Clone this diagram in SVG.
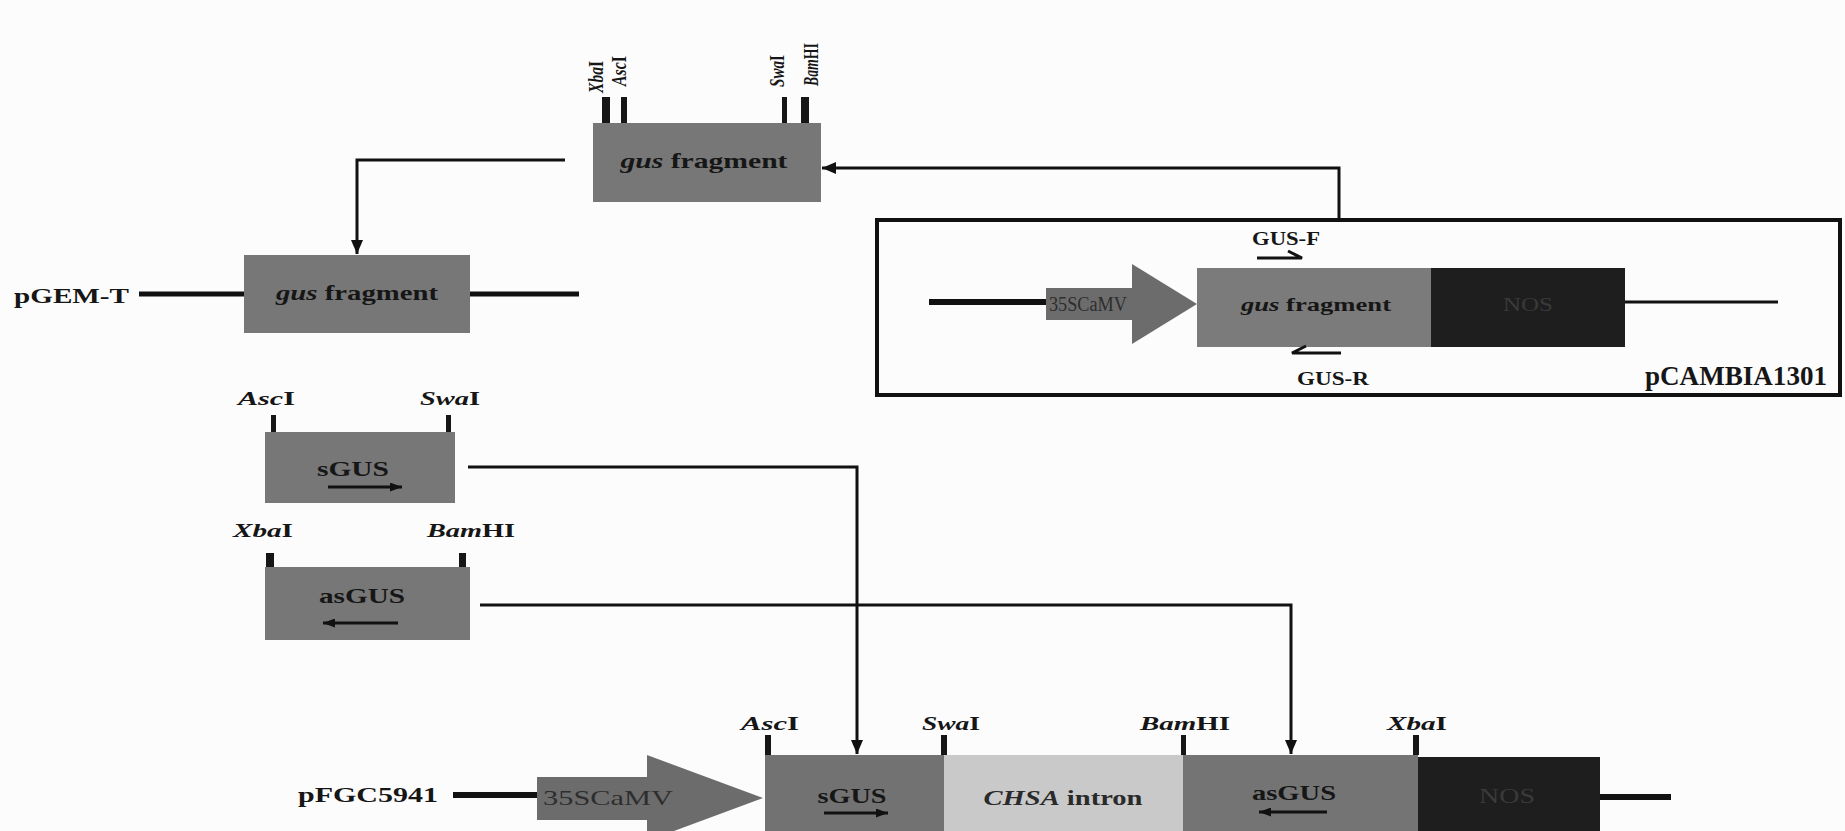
<svg xmlns="http://www.w3.org/2000/svg" width="1845" height="831" viewBox="0 0 1845 831">
<defs>
<marker id="ah" markerWidth="14" markerHeight="12" refX="14" refY="6" orient="auto" markerUnits="userSpaceOnUse"><path d="M0,0 L14,6 L0,12 Z" fill="#111"/></marker>
<marker id="sa" markerWidth="12" markerHeight="9" refX="12" refY="4.5" orient="auto" markerUnits="userSpaceOnUse"><path d="M0,0 L12,4.5 L0,9 Z" fill="#111"/></marker>
</defs>
<style>
.t{font-family:"Liberation Serif","Times New Roman",serif;font-weight:bold;fill:#161616}
.i{font-style:italic}
.m{text-anchor:middle}
.n{font-weight:normal;fill:#2e2e2e}
.box{fill:#777777}
.dark{fill:#1e1e1e}
.light{fill:#c9c9c9}
.conn{fill:none;stroke:#111;stroke-width:3}
.bb{stroke:#111;stroke-width:5}
.tk{fill:#161616}
.sa{stroke:#111;stroke-width:3;marker-end:url(#sa)}
.hp{fill:none;stroke:#111;stroke-width:3}
</style>
<rect width="1845" height="831" fill="#fcfcfc"/>

<g id="connectors">
<path class="conn" d="M1339,218 V168 H822" marker-end="url(#ah)"/>
<path class="conn" d="M565,160 H357 V254" marker-end="url(#ah)"/>
<path class="conn" d="M468,467 H857 V754" marker-end="url(#ah)"/>
<path class="conn" d="M480,605 H1291 V754" marker-end="url(#ah)"/>
</g>

<g id="gus-top">
<rect class="box" x="593" y="123" width="228" height="79"/>
<rect class="tk" x="602" y="97" width="8" height="26"/>
<rect class="tk" x="621" y="97" width="6" height="26"/>
<rect class="tk" x="782" y="97" width="5" height="26"/>
<rect class="tk" x="801" y="97" width="8" height="26"/>
<text class="t" font-size="20" transform="translate(603,93) rotate(-90)" textLength="32" lengthAdjust="spacingAndGlyphs"><tspan class="i">Xba</tspan>I</text>
<text class="t" font-size="20" transform="translate(626,86) rotate(-90)" textLength="30" lengthAdjust="spacingAndGlyphs"><tspan class="i">Asc</tspan>I</text>
<text class="t" font-size="20" transform="translate(784,87) rotate(-90)" textLength="32" lengthAdjust="spacingAndGlyphs"><tspan class="i">Swa</tspan>I</text>
<text class="t" font-size="20" transform="translate(818,86) rotate(-90)" textLength="43" lengthAdjust="spacingAndGlyphs"><tspan class="i">Bam</tspan>HI</text>
<text class="t m" x="704" y="168" font-size="22" textLength="167" lengthAdjust="spacingAndGlyphs"><tspan class="i">gus</tspan> fragment</text>
</g>

<g id="pGEM-T">
<text class="t" x="14" y="303" font-size="21" textLength="115" lengthAdjust="spacingAndGlyphs">pGEM-T</text>
<line class="bb" x1="139" y1="294" x2="244" y2="294"/>
<line class="bb" x1="470" y1="294" x2="579" y2="294"/>
<rect class="box" x="244" y="255" width="226" height="78"/>
<text class="t m" x="357" y="300" font-size="21" textLength="162" lengthAdjust="spacingAndGlyphs"><tspan class="i">gus</tspan> fragment</text>
</g>

<g id="pCAMBIA1301">
<rect x="877" y="220" width="963" height="175" fill="none" stroke="#111" stroke-width="4"/>
<line x1="929" y1="302" x2="1046" y2="302" stroke="#111" stroke-width="6"/>
<line x1="1625" y1="302" x2="1778" y2="302" stroke="#111" stroke-width="3"/>
<polygon fill="#6c6c6c" points="1046,288 1132,288 1132,264 1197,304 1132,344 1132,320 1046,320"/>
<rect fill="#7b7b7b" x="1197" y="268" width="234" height="79"/>
<rect class="dark" x="1431" y="268" width="194" height="79"/>
<text class="t n m" x="1088" y="311" font-size="20" textLength="78" lengthAdjust="spacingAndGlyphs">35SCaMV</text>
<text class="t m" x="1316" y="311" font-size="19" textLength="150" lengthAdjust="spacingAndGlyphs"><tspan class="i">gus</tspan> fragment</text>
<text class="t n m" x="1528" y="311" font-size="19" textLength="50" lengthAdjust="spacingAndGlyphs" style="fill:#3a3a3a">NOS</text>
<text class="t" x="1252" y="245" font-size="18" textLength="68" lengthAdjust="spacingAndGlyphs">GUS-F</text>
<path class="hp" d="M1257,258 H1302 L1288,251"/>
<path class="hp" d="M1341,353 H1292 L1306,346"/>
<text class="t" x="1297" y="385" font-size="18" textLength="72" lengthAdjust="spacingAndGlyphs">GUS-R</text>
<text class="t" x="1645" y="385" font-size="28" textLength="182" lengthAdjust="spacingAndGlyphs">pCAMBIA1301</text>
</g>

<g id="sGUS-frag">
<rect class="box" x="265" y="432" width="190" height="71"/>
<rect class="tk" x="271" y="415" width="5" height="17"/>
<rect class="tk" x="446" y="415" width="5" height="17"/>
<text class="t" x="238" y="405" font-size="19" textLength="57" lengthAdjust="spacingAndGlyphs"><tspan class="i">Asc</tspan>I</text>
<text class="t" x="420" y="405" font-size="19" textLength="60" lengthAdjust="spacingAndGlyphs"><tspan class="i">Swa</tspan>I</text>
<text class="t m" x="353" y="476" font-size="21" textLength="72" lengthAdjust="spacingAndGlyphs">sGUS</text>
<line class="sa" x1="328" y1="487" x2="402" y2="487"/>
</g>

<g id="asGUS-frag">
<rect class="box" x="265" y="567" width="205" height="73"/>
<rect class="tk" x="266" y="553" width="8" height="14"/>
<rect class="tk" x="459" y="553" width="7" height="14"/>
<text class="t" x="233" y="537" font-size="19" textLength="60" lengthAdjust="spacingAndGlyphs"><tspan class="i">Xba</tspan>I</text>
<text class="t" x="427" y="537" font-size="19" textLength="88" lengthAdjust="spacingAndGlyphs"><tspan class="i">Bam</tspan>HI</text>
<text class="t m" x="362" y="603" font-size="21" textLength="86" lengthAdjust="spacingAndGlyphs">asGUS</text>
<line class="sa" x1="398" y1="623" x2="323" y2="623"/>
</g>

<g id="pFGC5941">
<text class="t" x="298" y="802" font-size="21" textLength="140" lengthAdjust="spacingAndGlyphs">pFGC5941</text>
<line x1="453" y1="795" x2="540" y2="795" stroke="#111" stroke-width="6"/>
<line x1="1598" y1="797" x2="1671" y2="797" stroke="#111" stroke-width="6"/>
<polygon fill="#6c6c6c" points="537,777 647,777 647,755 763,798 647,841 647,820 537,820"/>
<rect fill="#727272" x="765" y="755" width="179" height="85"/>
<rect class="light" x="944" y="755" width="239" height="85"/>
<rect fill="#747474" x="1183" y="755" width="235" height="85"/>
<rect class="dark" x="1418" y="757" width="182" height="83"/>
<rect class="tk" x="765" y="735" width="6" height="20"/>
<rect class="tk" x="941" y="735" width="6" height="20"/>
<rect class="tk" x="1181" y="735" width="5" height="20"/>
<rect class="tk" x="1413" y="735" width="6" height="20"/>
<text class="t" x="741" y="730" font-size="19" textLength="58" lengthAdjust="spacingAndGlyphs"><tspan class="i">Asc</tspan>I</text>
<text class="t" x="922" y="730" font-size="19" textLength="58" lengthAdjust="spacingAndGlyphs"><tspan class="i">Swa</tspan>I</text>
<text class="t" x="1140" y="730" font-size="19" textLength="90" lengthAdjust="spacingAndGlyphs"><tspan class="i">Bam</tspan>HI</text>
<text class="t" x="1387" y="730" font-size="19" textLength="60" lengthAdjust="spacingAndGlyphs"><tspan class="i">Xba</tspan>I</text>
<text class="t n m" x="608" y="805" font-size="21" textLength="130" lengthAdjust="spacingAndGlyphs">35SCaMV</text>
<text class="t m" x="852" y="803" font-size="21" textLength="69" lengthAdjust="spacingAndGlyphs">sGUS</text>
<line class="sa" x1="824" y1="813" x2="888" y2="813"/>
<text class="t m" x="1063" y="805" font-size="21" textLength="159" lengthAdjust="spacingAndGlyphs" style="fill:#2a2a2a"><tspan class="i">CHSA</tspan> intron</text>
<text class="t m" x="1294" y="800" font-size="21" textLength="84" lengthAdjust="spacingAndGlyphs">asGUS</text>
<line class="sa" x1="1327" y1="812" x2="1259" y2="812"/>
<text class="t n m" x="1507" y="803" font-size="20" textLength="56" lengthAdjust="spacingAndGlyphs" style="fill:#3a3a3a">NOS</text>
</g>
</svg>
